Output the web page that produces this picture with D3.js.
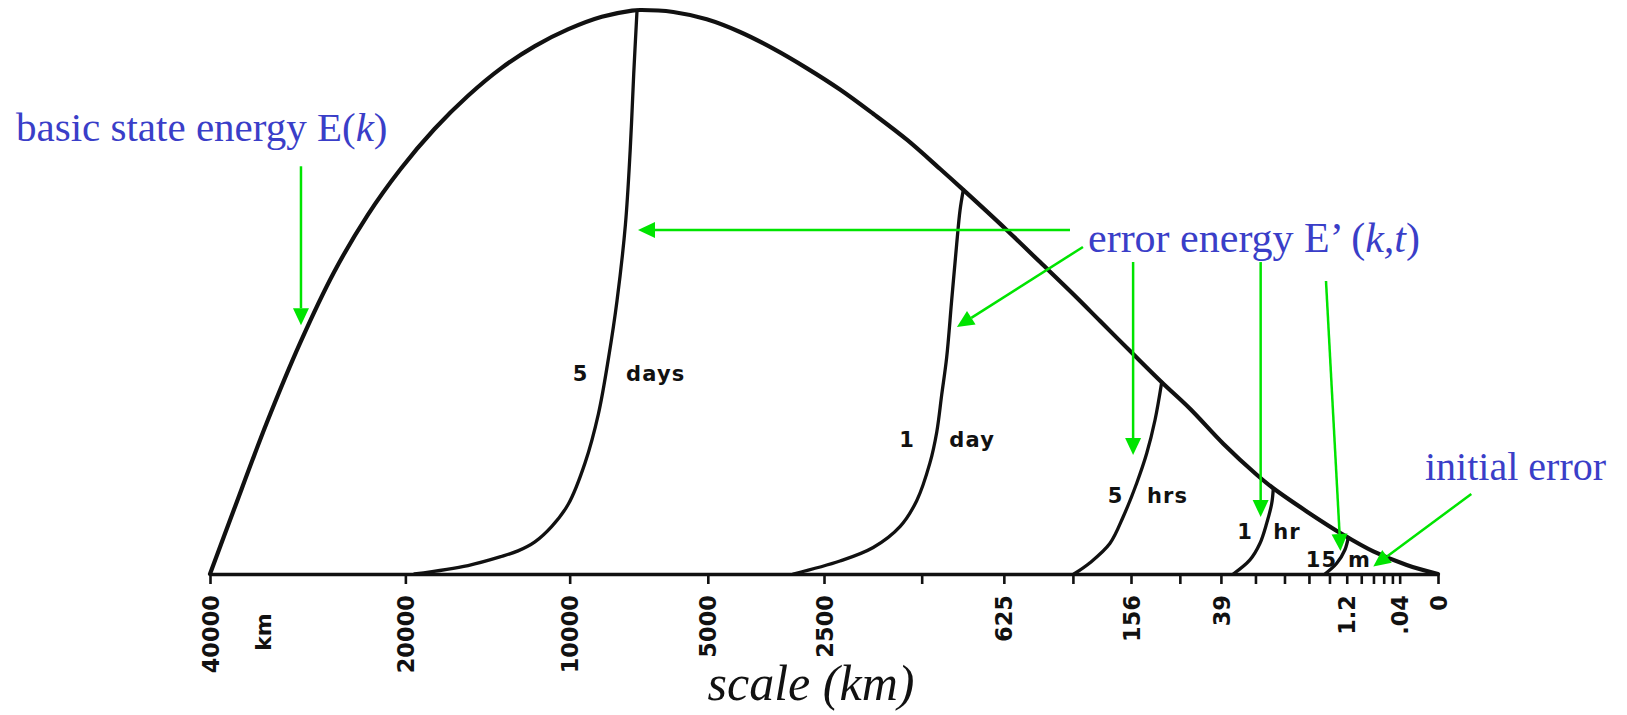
<!DOCTYPE html>
<html>
<head>
<meta charset="utf-8">
<script src="https://cdn.jsdelivr.net/npm/d3@7"></script>
<style>
  html, body { margin: 0; padding: 0; background: #fff; }
  svg { display: block; }
</style>
</head>
<body>
<svg id="chart" width="1627" height="715"></svg>
<script>
// Horizontal scale (wavelength, km) and basic-state energy E(k), peak = 100
const scaleKm = [40000, 37000, 33100, 29450, 26130, 23100, 20340, 17840, 15570, 13540,
                 11700, 10060, 8600, 7420, 7130, 6015, 5030, 4175, 3435, 2795,
                 2250, 1790, 1400, 1080, 893, 609, 441, 311, 230, 152,
                 102.5, 66.5, 37.4, 19.0, 12.94, 5.23, 1.415, 0.308, 0.0169, 0];
const basicEnergy = [0, 11.3, 26.8, 41.1, 53.5, 63.6, 71.9, 78.9, 84.8, 89.7,
                     93.6, 96.6, 98.8, 99.9, 100, 99.65, 98.35, 96.1, 93.15, 89.7,
                     85.9, 81.6, 77.0, 71.8, 68.1, 61.0, 55.3, 49.6, 44.9, 39.0,
                     34.0, 29.3, 23.1, 17.6, 15.2, 11.1, 6.95, 4.0, 1.6, 0];

// Error energy E'(k,t): the part of each curve that lies below E(k)
// (at smaller scales the error is saturated and coincides with E(k))
const err5days = [[19300, 0], [15570, 1.5], [13540, 3.1], [12600, 4.1],
                  [11700, 5.7], [10860, 8.4], [10060, 12.4], [9310, 19.7], [8740, 28.4],
                  [8320, 38.5], [7990, 48.5], [7670, 61.9], [7490, 75.2], [7360, 88.7],
                  [7240, 99.95]];
const err1day  = [[3040, 0], [2250, 2.3], [1790, 4.7], [1474, 8.4], [1299, 13.0],
                  [1172, 19.7], [1111, 25.1], [1067, 31.8], [1025, 38.4], [984, 48.5],
                  [944, 58.5], [918, 64.5], [893, 68.1]];
const err5hrs  = [[309, 0], [258, 2.0], [204, 5.4], [172.5, 10.2], [145, 16.1],
                  [126.6, 21.4], [112.8, 27.3], [102.5, 34.0]];
const err1hr   = [[30.9, 0], [22, 2.5], [17.7, 5.4], [15.15, 9.0], [13.45, 12.5], [12.94, 15.2]];
const err15min = [[2.87, 0], [1.85, 1.9], [1.32, 4.3], [1.14, 6.5]];

// Elapsed-time labels: text either side of each error curve, anchored on the curve
const timeLabels = [
  { left: "5",  right: "days", km: 8440, energy: 35.6, dl: -25, dr: 50 },
  { left: "1",  right: "day",  km: 1124, energy: 23.9, dl: -28, dr: 37 },
  { left: "5",  right: "hrs",  km: 155,  energy: 14.0, dl: -16, dr: 36 },
  { left: "1",  right: "hr",   km: 16.1, energy: 7.6,  dl: -19, dr: 23 },
  { left: "15", right: "m",    km: 1.72, energy: 2.5,  dl: -17, dr: 21 }
];

// Axis ticks: successive halvings of 40000 km, then 0
const tickKm = [40000, 20000, 10000, 5000, 2500, 1250, 625, 312.5, 156.25, 78.125,
                39.0625, 19.53, 9.77, 4.88, 2.44, 1.22, 0.61, 0.305, 0.153, 0.076, 0.038, 0];
const tickLabels = ["40000", "20000", "10000", "5000", "2500", "", "625", "", "156", "",
                    "39", "", "", "", "", "1.2", "", "", "", "", ".04", "0"];

// Callout arrows: tip at a point of the diagram, tail offset in pixels
const callouts = [
  { km: 29400, energy: 44.1, dx: 0,     dy: -159 },
  { km: 7205,  energy: 61.0, dx: 432,   dy: 0 },
  { km: 942,   energy: 43.8, dx: 126,   dy: -80 },
  { km: 152,   energy: 21.1, dx: 0,     dy: -193 },
  { km: 17.4,  energy: 10.1, dx: 0,     dy: -255 },
  { km: 1.59,  energy: 4.08, dx: -14.5, dy: -270 },
  { km: 0.308, energy: 1.33, dx: 98,    dy: -72.5 }
];

const INK = "#111";
const BLUE = "#3a3ec8";
const GREEN = "#00e400";

const svg = d3.select("#chart");

// Fourth-root spacing: every halving of the scale gets a slightly shorter step
const x = d3.scalePow().exponent(0.25).domain([40000, 0]).range([210, 1438]);
const y = d3.scaleLinear().domain([0, 100]).range([574, 10]);

// Axis
const axis = d3.axisBottom(x)
  .tickValues(tickKm)
  .tickSize(10)
  .tickSizeOuter(0)
  .tickFormat((d, i) => tickLabels[i]);

const gx = svg.append("g")
  .attr("transform", `translate(0,${y(0)})`)
  .call(axis);

gx.select(".domain").attr("stroke", INK).attr("stroke-width", 3.6);
gx.selectAll(".tick line").attr("stroke", INK).attr("stroke-width", 2.6);
gx.selectAll(".tick text")
  .attr("transform", "rotate(-90)")
  .attr("x", -21)
  .attr("y", 0)
  .attr("dy", "0.36em")
  .attr("text-anchor", "end")
  .attr("fill", INK)
  .style("font-family", "'DejaVu Sans', sans-serif")
  .style("font-weight", "bold")
  .style("font-size", "22.5px");

// unit marker under the first tick
svg.append("text")
  .attr("transform", `translate(${x(40000) + 53},${y(0) + 58}) rotate(-90)`)
  .attr("text-anchor", "middle")
  .attr("dy", "0.36em")
  .attr("fill", INK)
  .style("font-family", "'DejaVu Sans', sans-serif")
  .style("font-weight", "bold")
  .style("font-size", "22px")
  .text("km");

// Curves
const line = d3.line()
  .x(d => x(d[0]))
  .y(d => y(d[1]))
  .curve(d3.curveCatmullRom.alpha(0.5));

svg.append("path")
  .datum(d3.zip(scaleKm, basicEnergy))
  .attr("d", line)
  .attr("fill", "none")
  .attr("stroke", INK)
  .attr("stroke-width", 4.2)
  .attr("stroke-linejoin", "round")
  .attr("stroke-linecap", "round");

svg.append("g")
  .selectAll("path")
  .data([err5days, err1day, err5hrs, err1hr, err15min])
  .join("path")
  .attr("d", line)
  .attr("fill", "none")
  .attr("stroke", INK)
  .attr("stroke-width", 3.3)
  .attr("stroke-linecap", "round");

// Time labels
const labelFont = sel => sel
  .attr("fill", INK)
  .attr("text-anchor", "middle")
  .attr("dy", "0.36em")
  .style("font-family", "'DejaVu Sans', sans-serif")
  .style("font-weight", "bold")
  .style("font-size", "21px")
  .style("letter-spacing", "1.2px");

const gl = svg.append("g");
timeLabels.forEach(t => {
  gl.append("text").attr("x", x(t.km) + t.dl).attr("y", y(t.energy)).call(labelFont).text(t.left);
  gl.append("text").attr("x", x(t.km) + t.dr).attr("y", y(t.energy)).call(labelFont).text(t.right);
});

// Callout arrows
const ga = svg.append("g");
callouts.forEach(c => {
  const tx = x(c.km), ty = y(c.energy);
  const sx = tx + c.dx, sy = ty + c.dy;
  const len = Math.hypot(tx - sx, ty - sy);
  const ux = (tx - sx) / len, uy = (ty - sy) / len;
  const headL = 17, headW = 8;
  const bx = tx - ux * headL, by = ty - uy * headL;
  ga.append("line")
    .attr("x1", sx).attr("y1", sy).attr("x2", bx).attr("y2", by)
    .attr("stroke", GREEN).attr("stroke-width", 2.5);
  ga.append("path")
    .attr("d", `M${tx},${ty}L${bx - uy * headW},${by + ux * headW}L${bx + uy * headW},${by - ux * headW}Z`)
    .attr("fill", GREEN);
});

// Annotation text
const serif = "'Liberation Serif', 'Times New Roman', serif";
const note = (tx, ty, parts, size) => {
  const t = svg.append("text")
    .attr("x", tx).attr("y", ty)
    .attr("fill", BLUE)
    .style("font-family", serif)
    .style("font-size", size + "px");
  parts.forEach(([s, it]) => t.append("tspan").style("font-style", it ? "italic" : "normal").text(s));
  return t;
};

note(16, 141, [["basic state energy E("], ["k", true], [")"]], 41);
note(1088, 252, [["error energy E’ ("], ["k,t", true], [")"]], 42);
note(1425, 480, [["initial error"]], 40);

// Axis title
svg.append("text")
  .attr("x", 811).attr("y", 700)
  .attr("text-anchor", "middle")
  .attr("fill", INK)
  .style("font-family", serif)
  .style("font-style", "italic")
  .style("font-size", "50px")
  .text("scale (km)");
</script>
</body>
</html>
